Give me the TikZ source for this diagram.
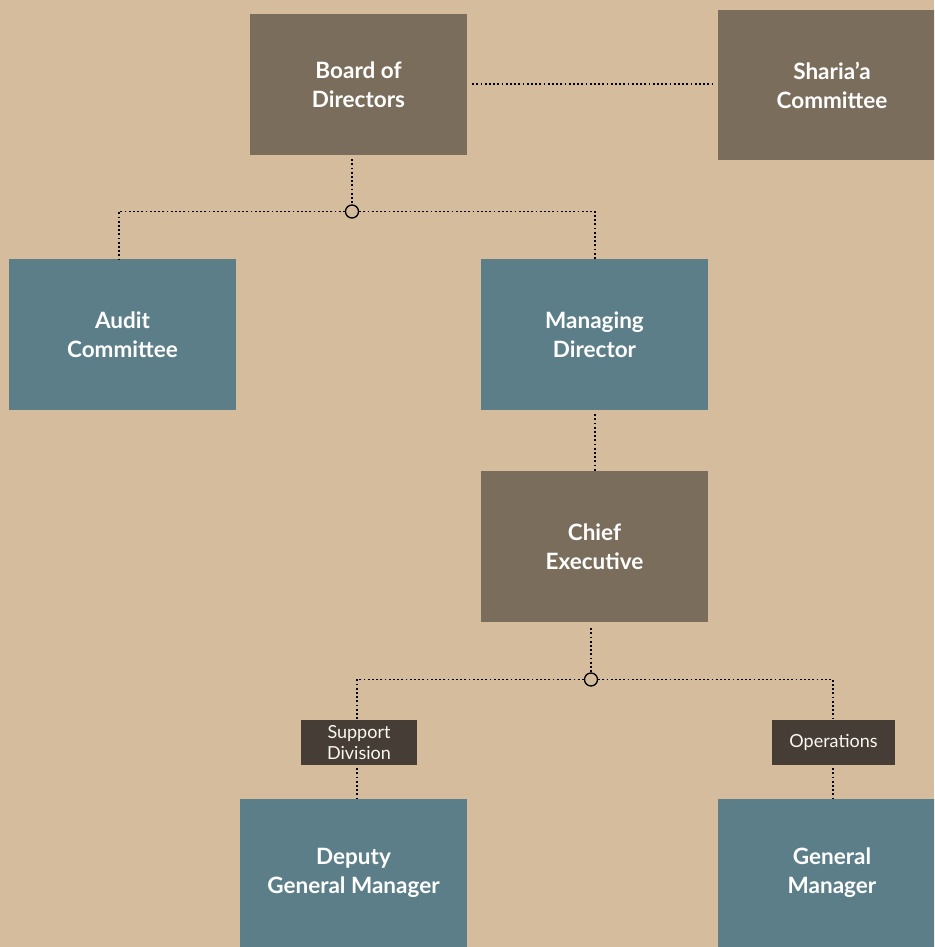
\documentclass[tikz,border=0pt]{standalone}
\usepackage{fontspec}
\setmainfont{Lato}
\definecolor{paper}{HTML}{D4BC9C}
\definecolor{brownbox}{HTML}{7B6D5B}
\definecolor{tealbox}{HTML}{5B7E88}
\definecolor{tagbox}{HTML}{463E36}
\begin{document}
\begin{tikzpicture}[x=1pt, y=-1pt,
        unit/.style={draw=none, text=white, font=\bfseries\fontsize{22.5}{29}\selectfont, align=center, inner sep=0pt},
        upper/.style={unit, fill=brownbox},
        lower/.style={unit, fill=tealbox},
        tag/.style={fill=tagbox, text=white!88!paper, font=\fontsize{18}{21}\selectfont, align=center, inner sep=0pt, minimum height=45pt},
        link/.style={line width=1.8pt, dash pattern=on 1.8pt off 2.4pt},
        hub/.style={circle, draw, line width=1.3pt, fill=paper, inner sep=0pt, minimum size=13pt}]
    \useasboundingbox (0,0) rectangle (934,947);
    \fill[paper] (0,0) rectangle (934,947);
    \clip (0,0) rectangle (934,947);
    % boxes
    \node[upper, minimum width=217pt, minimum height=141pt] (board) at (358.5,84.5) {Board of\\Directors};
    \node[upper, minimum width=228pt, minimum height=150pt] (sharia) at (832,85) {Sharia'a\\Committee};
    \node[lower, minimum width=227pt, minimum height=151pt] (audit) at (122.5,334.5) {Audit\\Committee};
    \node[lower, minimum width=227pt, minimum height=151pt] (md) at (594.5,334.5) {Managing\\Director};
    \node[upper, minimum width=227pt, minimum height=151pt] (ce) at (594.5,546.5) {Chief\\Executive};
    \node[lower, minimum width=227pt, minimum height=148pt] (dgm) at (353.5,873) {Deputy\\General Manager};
    \node[lower, minimum width=228pt, minimum height=148pt] (gm) at (832,873) {General\\Manager};
    \node[tag, minimum width=116pt] (support) at (359,742.5) {Support\\Division};
    \node[tag, minimum width=123pt] (ops) at (833.5,742.5) {Operations};
    % hubs
    \node[hub] (hubtop) at (352,211.5) {};
    \node[hub] (hubce) at (591,679.5) {};
    \coordinate (aud) at (119,211.5);
    \coordinate (mdc) at (595,211.5);
    \coordinate (sup) at (357,679.5);
    \coordinate (opc) at (833,679.5);
    % connectors
    \draw[link] (board.east |- 0,84) ++(5,0) -- ([xshift=-3pt]sharia.west |- 0,84);
    \draw[link] (board.south -| hubtop) ++(0,4) -- (hubtop);
    \draw[link] (hubtop) -- (aud) -- (aud |- audit.north);
    \draw[link] (hubtop) -- (mdc) -- (mdc |- md.north);
    \draw[link] (md.south -| mdc) ++(0,4) -- (mdc |- ce.north);
    \draw[link] (ce.south -| hubce) ++(0,6) -- (hubce);
    \draw[link] (hubce) -- (sup) -- (sup |- support.north);
    \draw[link] (hubce) -- (opc) -- (opc |- ops.north);
    \draw[link] (support.south -| sup) ++(0,3) -- (sup |- dgm.north);
    \draw[link] (ops.south -| opc) ++(0,3) -- (opc |- gm.north);
\end{tikzpicture}
\end{document}
